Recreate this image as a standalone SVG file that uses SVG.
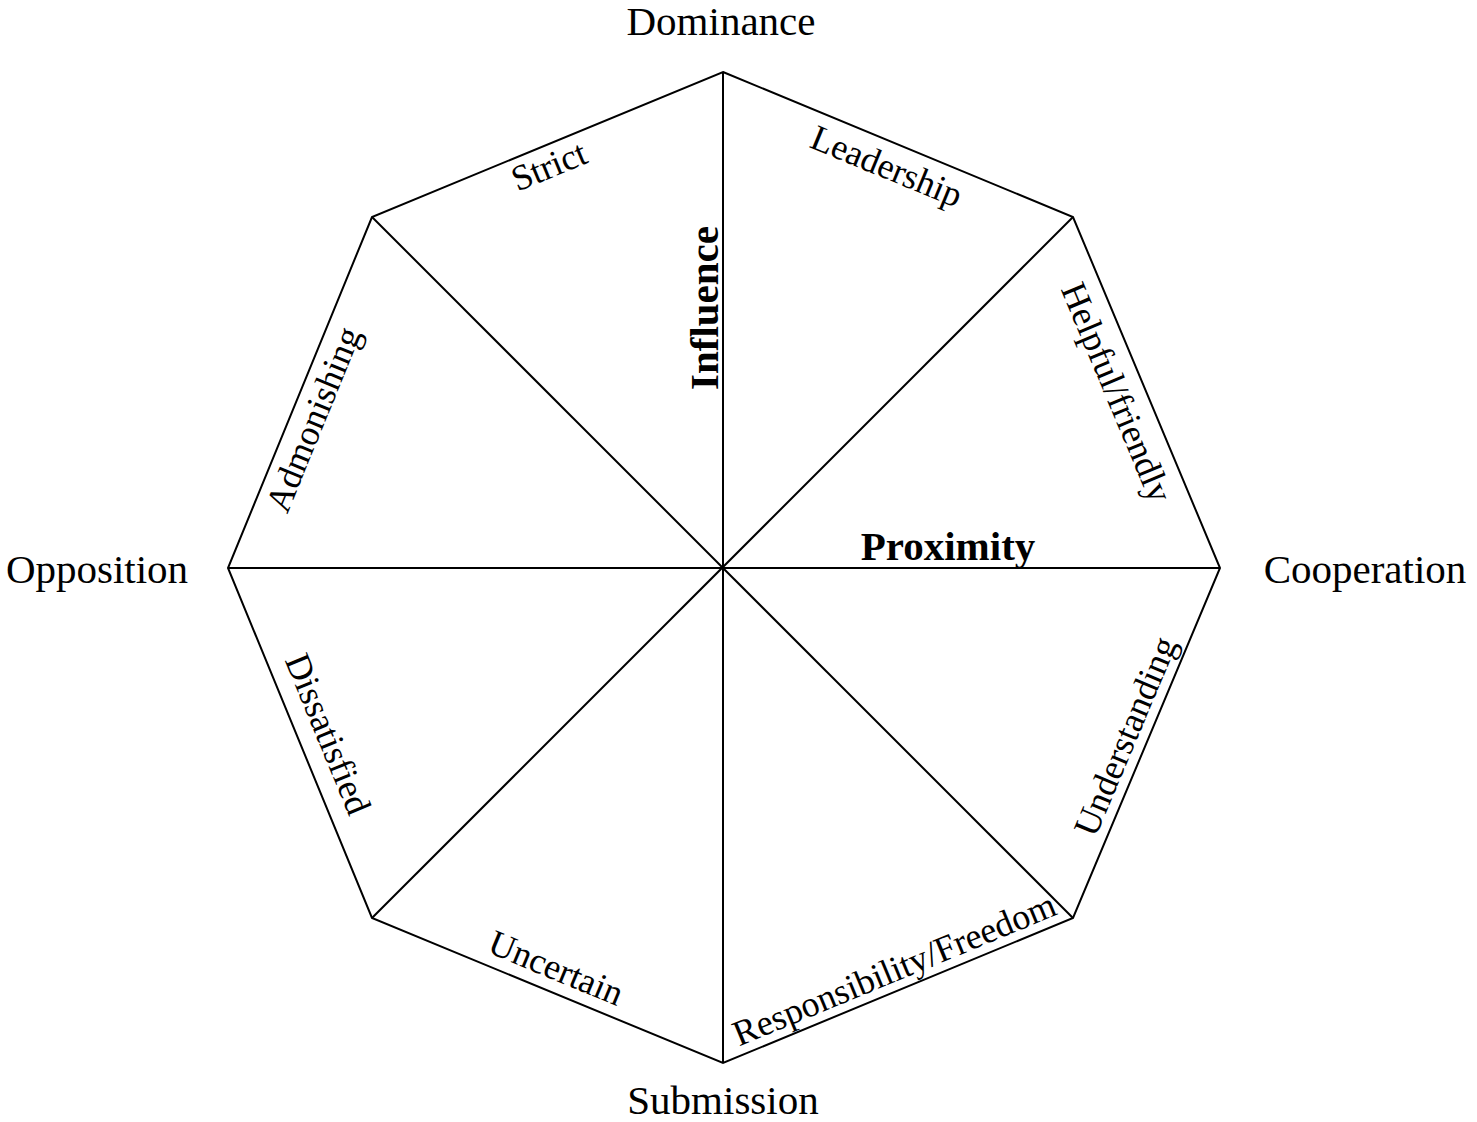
<svg xmlns="http://www.w3.org/2000/svg" width="1477" height="1122" viewBox="0 0 1477 1122">
<style>
.edge{fill:none;stroke:#000;stroke-width:2}
.axis{font-family:"Liberation Serif","Times New Roman",serif;font-size:41px;fill:#000;text-anchor:middle}
.lbl{font-family:"Liberation Serif","Times New Roman",serif;font-size:36px;fill:#000;text-anchor:middle}
.bold{font-family:"Liberation Serif","Times New Roman",serif;font-size:41px;font-weight:bold;fill:#000;text-anchor:middle}
</style>
<rect width="1477" height="1122" fill="#fff"/>
<g id="connectors">
<polygon class="edge" points="723,72 1073,217 1220,568 1073,918 723,1063 372,918 228,568 372,217"/>
<line class="edge" x1="723" y1="72" x2="723" y2="1063"/>
<line class="edge" x1="228" y1="568" x2="1220" y2="568"/>
<line class="edge" x1="372" y1="217" x2="1073" y2="918"/>
<line class="edge" x1="1073" y1="217" x2="372" y2="918"/>
</g>
<g id="dominance"><text class="axis" x="721" y="35">Dominance</text></g>
<g id="opposition"><text class="axis" x="97" y="583">Opposition</text></g>
<g id="cooperation"><text class="axis" x="1365" y="583">Cooperation</text></g>
<g id="submission"><text class="axis" x="723" y="1114">Submission</text></g>
<g id="influence"><text class="bold" transform="translate(718,308) rotate(-90)">Influence</text></g>
<g id="proximity"><text class="bold" x="948" y="560">Proximity</text></g>
<g id="strict"><text class="lbl" transform="translate(549,166) rotate(-22.4)" dy="0.33em">Strict</text></g>
<g id="leadership"><text class="lbl" transform="translate(886,168) rotate(22.4)" dy="0.28em">Leadership</text></g>
<g id="helpful"><text class="lbl" transform="translate(1115,393) rotate(67.3)" dy="0.28em">Helpful/friendly</text></g>
<g id="understanding"><text class="lbl" transform="translate(1127,737) rotate(-67.2)" dy="0.28em">Understanding</text></g>
<g id="responsibility"><text class="lbl" transform="translate(895,971) rotate(-22.5)" dy="0.28em">Responsibility/Freedom</text></g>
<g id="uncertain"><text class="lbl" transform="translate(556,968) rotate(22.5)" dy="0.33em">Uncertain</text></g>
<g id="dissatisfied"><text class="lbl" transform="translate(328,734) rotate(67.6)" dy="0.33em">Dissatisfied</text></g>
<g id="admonishing"><text class="lbl" transform="translate(315,420) rotate(-67.7)" dy="0.28em">Admonishing</text></g>
</svg>
